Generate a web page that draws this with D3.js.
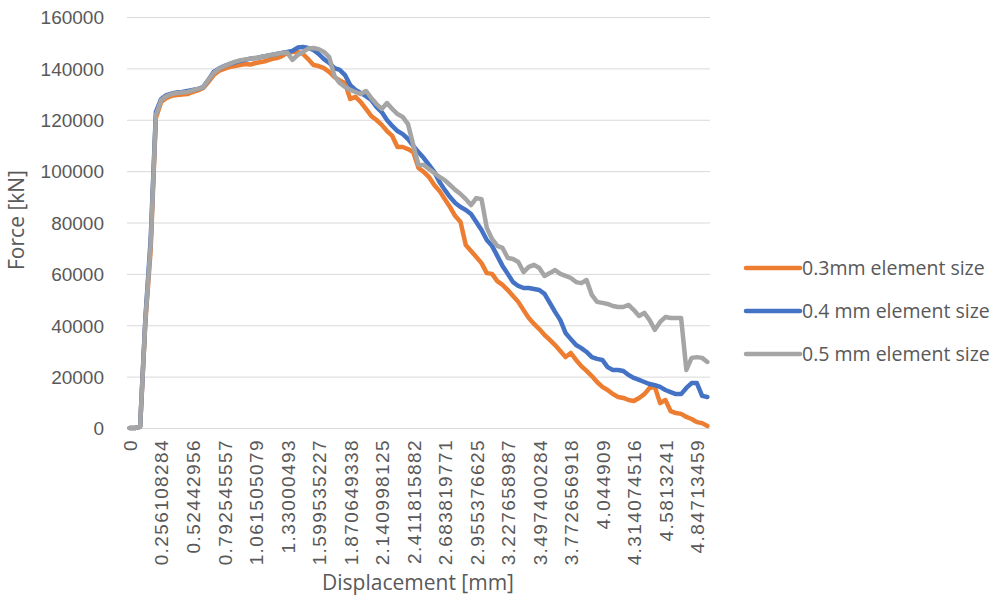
<!DOCTYPE html>
<html>
<head>
<meta charset="utf-8">
<script src="https://cdn.jsdelivr.net/npm/d3@7"></script>
<style>
  html, body { margin: 0; padding: 0; background: #fff; }
  svg { display: block; font-family: "Open Sans", "Noto Sans", sans-serif; }
</style>
</head>
<body>
<svg id="chart" width="995" height="603"></svg>
<script>
// Force–displacement curves for three mesh element sizes (category axis: one sample per step)
const seriesNames = ["0.3mm element size", "0.4 mm element size", "0.5 mm element size"];
const seriesColors = ["#ED7D31", "#4472C4", "#A5A5A5"];

const force03 = [
  0, 0, 500, 41300, 69300, 120700, 126900, 128500, 129300, 129600,
  129800, 130000, 130800, 131400, 132400, 134700, 137400, 139000, 139800, 140500,
  140900, 141300, 141700, 141500, 142100, 142500, 142900, 143600, 144000, 144800,
  146000, 146400, 146400, 145600, 143600, 141300, 140900, 140100, 138600, 136600,
  135300, 134300, 128100, 128900, 126900, 124200, 121500, 119900, 118000, 115600,
  113700, 109400, 109400, 108600, 107400, 101200, 99700, 97700, 94600, 92300,
  89100, 86000, 82500, 80200, 71200, 68900, 66600, 64200, 60300, 60000,
  57200, 55700, 53700, 51400, 49100, 45900, 42800, 40500, 38500, 36200,
  34300, 32300, 30000, 27600, 29200, 26500, 24100, 22200, 20200, 17900,
  16000, 14800, 13200, 12100, 11700, 10900, 10500, 11700, 13200, 15600,
  16000, 9700, 10900, 6600, 5800, 5500, 4300, 3500, 2300, 1900, 800
];

const force04 = [
  0, 0, 500, 42800, 73200, 123000, 128100, 129600, 130200, 130600,
  130800, 131200, 131600, 132000, 132700, 135500, 138600, 139900, 140900, 141700,
  142300, 142900, 143300, 143800, 144000, 144400, 144800, 145200, 145600, 146000,
  146400, 146800, 148100, 148300, 147900, 147200, 145600, 143600, 142100, 140100,
  139400, 137400, 133500, 131600, 130400, 129200, 127700, 125000, 123000, 119900,
  117600, 115600, 114400, 112500, 109800, 107400, 105100, 102400, 99700, 95800,
  92700, 89900, 87600, 86000, 84900, 83300, 80200, 77100, 73200, 70900,
  67000, 63100, 60000, 56800, 55300, 54500, 54500, 54100, 53700, 52200,
  48700, 45200, 42000, 37000, 34600, 32300, 31100, 29600, 27600, 26900,
  26500, 23700, 22600, 22600, 22200, 20600, 19500, 18700, 17900, 17100,
  16700, 16000, 14800, 14000, 13200, 13200, 15600, 17500, 17500, 12500, 12100
];

const force05 = [
  0, 0, 500, 42000, 71200, 121800, 127700, 129200, 130000, 130400,
  130600, 130800, 131400, 132000, 132700, 135500, 138200, 139800, 140900, 141700,
  142500, 143100, 143500, 143800, 144000, 144400, 144800, 145200, 145600, 146000,
  146200, 143300, 145200, 146400, 147700, 147900, 147500, 146400, 144400, 137000,
  134300, 132800, 131600, 130800, 130000, 131200, 128500, 126100, 124200, 126500,
  124200, 122200, 121100, 118300, 110200, 102400, 102400, 100800, 99300, 97700,
  96500, 94600, 92700, 91100, 89100, 86800, 89500, 89100, 77900, 73600,
  70900, 70100, 66200, 65800, 64600, 60700, 62700, 63500, 62300, 59200,
  60300, 61500, 60000, 59200, 58400, 56800, 56400, 57600, 51800, 49100,
  48700, 48300, 47500, 47100, 47100, 47900, 45900, 43600, 44800, 42000,
  38200, 41300, 43200, 42800, 42800, 42800, 22600, 27300, 27600, 27300, 25700
];

// Displacement [mm] shown under every sixth sample
const xTickLabels = [
  "0", "0.256108284", "0.52442956", "0.792545557", "1.061505079", "1.33000493",
  "1.599535227", "1.870649338", "2.140998125", "2.411815882", "2.683819771",
  "2.955376625", "3.227658987", "3.497400284", "3.772656918", "4.044909",
  "4.314074516", "4.5813241", "4.84713459"
];
const labelEvery = 6;

const yTicks = [0, 20000, 40000, 60000, 80000, 100000, 120000, 140000, 160000];

const series = [force03, force04, force05];
const nSamples = force03.length;

const svg = d3.select("#chart");
const plot = { left: 127, right: 710, top: 17, bottom: 428 };
const textColor = "#595959";

const x = d3.scalePoint()
  .domain(d3.range(nSamples))
  .range([plot.left, plot.right])
  .padding(0.5);

const y = d3.scaleLinear()
  .domain([0, 160000])
  .range([plot.bottom, plot.top]);

// horizontal gridlines + y tick labels
const yAxis = svg.append("g")
  .attr("transform", `translate(${plot.left},0)`)
  .call(d3.axisLeft(y)
    .tickValues(yTicks)
    .tickFormat(d3.format("d"))
    .tickSize(-(plot.right - plot.left))
    .tickPadding(23));
yAxis.select(".domain").remove();
yAxis.selectAll(".tick line").attr("stroke", "#D9D9D9").attr("stroke-width", 1);
yAxis.selectAll(".tick text")
  .attr("fill", textColor)
  .style("font-size", "19px")
  .attr("dy", "0.36em");

// x category labels, rotated
const xAxis = svg.append("g")
  .attr("transform", `translate(0,${plot.bottom})`)
  .call(d3.axisBottom(x)
    .tickValues(d3.range(0, nSamples, labelEvery))
    .tickFormat(i => xTickLabels[i / labelEvery])
    .tickSize(0));
xAxis.select(".domain").remove();
xAxis.selectAll(".tick text")
  .attr("fill", textColor)
  .style("font-size", "19px")
  .style("letter-spacing", "1.4px")
  .attr("text-anchor", "end")
  .attr("transform", "rotate(-90)")
  .attr("x", -11)
  .attr("y", 0)
  .attr("dy", "0.36em");

// series lines
const line = d3.line()
  .x((d, i) => x(i))
  .y(d => y(d));

series.forEach((data, k) => {
  svg.append("path")
    .datum(data)
    .attr("fill", "none")
    .attr("stroke", seriesColors[k])
    .attr("stroke-width", 4.5)
    .attr("stroke-linejoin", "round")
    .attr("stroke-linecap", "round")
    .attr("d", line);
});

// axis titles
svg.append("text")
  .attr("x", 418)
  .attr("y", 590)
  .attr("text-anchor", "middle")
  .attr("fill", textColor)
  .style("font-size", "21px")
  .text("Displacement [mm]");

svg.append("text")
  .attr("transform", "translate(24,220) rotate(-90)")
  .attr("text-anchor", "middle")
  .attr("fill", textColor)
  .style("font-size", "21px")
  .text("Force [kN]");

// legend
const legend = svg.append("g").attr("transform", "translate(746,268)");
seriesNames.forEach((name, k) => {
  const g = legend.append("g").attr("transform", `translate(0,${k * 43})`);
  g.append("line")
    .attr("x1", 0).attr("x2", 54)
    .attr("stroke", seriesColors[k])
    .attr("stroke-width", 4.5)
    .attr("stroke-linecap", "round");
  g.append("text")
    .attr("x", 56)
    .attr("dy", "0.36em")
    .attr("fill", textColor)
    .style("font-size", "19.5px")
    .text(name);
});
</script>
</body>
</html>
